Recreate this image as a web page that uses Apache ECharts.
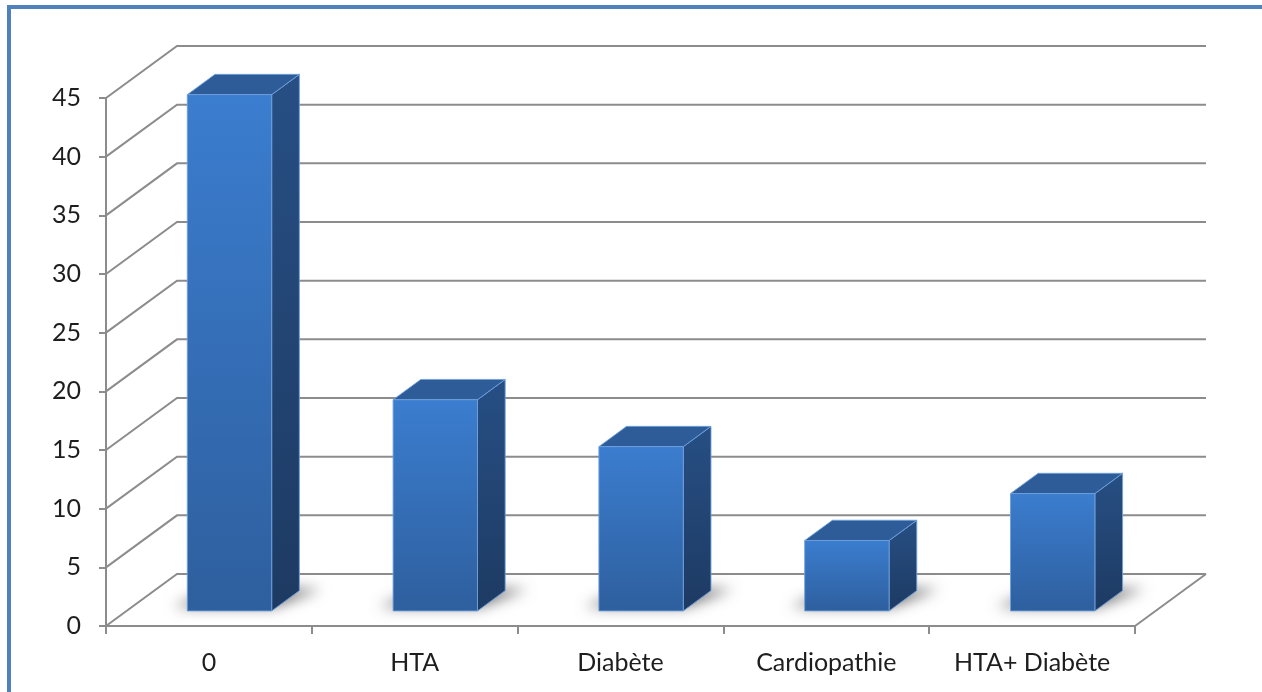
<!DOCTYPE html>
<html>
<head>
<meta charset="utf-8">
<script src="https://cdn.jsdelivr.net/npm/echarts@6/dist/echarts.min.js"></script>
<style>
  html, body { margin: 0; padding: 0; background: #ffffff; }
  #chart { width: 1262px; height: 692px; }
</style>
</head>
<body>
<div id="chart"></div>
<script>
// Categories and values (counts per comorbidity group)
const categories = ['0', 'HTA', 'Diabète', 'Cardiopathie', 'HTA+ Diabète'];
const values = [44, 18, 14, 6, 10];
const yTicks = [0, 5, 10, 15, 20, 25, 30, 35, 40, 45];

// Perspective of the 3D box: offset of the back wall from the front plane
const DX = 71, DY = -52;
const F0 = 0.29, F1 = 0.68;   // front / back depth of each column (fraction of depth)
const BAR_RATIO = 0.41;       // column width relative to category band
const GRID_COLOR = '#8c8c8c';
const SHIFT = 3000;           // the shadow shape is drawn off-canvas; only its blur lands on the floor

const chart = echarts.init(document.getElementById('chart'));

function wallItem(params, api) {
  const cs = params.coordSys;
  const p = api.coord([0, api.value(0)]);
  const x0 = cs.x, y = p[1];
  const children = [{
    type: 'polyline',
    shape: { points: [[x0, y], [x0 + DX, y + DY], [x0 + cs.width + DX, y + DY]] },
    style: { stroke: GRID_COLOR, lineWidth: 2, fill: null }
  }];
  if (api.value(0) === 0) {
    children.push({
      type: 'line',
      shape: { x1: x0 + cs.width, y1: y, x2: x0 + cs.width + DX, y2: y + DY },
      style: { stroke: GRID_COLOR, lineWidth: 2 }
    });
  }
  return { type: 'group', children };
}

function barItem(params, api) {
  const idx = api.value(0);
  const v = api.value(1);
  const base = api.coord([idx, 0]);
  const top = api.coord([idx, v]);
  const band = api.size([1, 0])[0];
  const w = band * BAR_RATIO;
  const fx = base[0] - w / 2 + F0 * DX;
  const fyB = base[1] + F0 * DY;
  const fyT = top[1] + F0 * DY;
  const bx = (F1 - F0) * DX, by = (F1 - F0) * DY;
  const edge = 'rgba(110,160,220,0.9)';

  const ftl = [fx, fyT], ftr = [fx + w, fyT], fbr = [fx + w, fyB], fbl = [fx, fyB];
  const btl = [fx + bx, fyT + by], btr = [fx + w + bx, fyT + by], bbr = [fx + w + bx, fyB + by];

  // soft floor shadow around the footprint
  const shadowPts = [
    [fx - 14, fyB - 4], [fx + w + 2, fyB - 4],
    [fx + w + bx + 22, fyB + by - 2], [fx + bx + 2, fyB + by - 2]
  ].map(pt => [pt[0] - SHIFT, pt[1]]);
  const shadow = {
    type: 'polygon',
    shape: { points: shadowPts },
    style: {
      fill: '#000', shadowBlur: 14, shadowOffsetX: SHIFT,
      shadowColor: 'rgba(0,0,0,0.55)'
    }
  };
  const front = {
    type: 'polygon',
    shape: { points: [ftl, ftr, fbr, fbl] },
    style: {
      fill: new echarts.graphic.LinearGradient(0, 0, 0, 1, [
        { offset: 0, color: '#3b7dcf' },
        { offset: 1, color: '#2e5f9e' }
      ]),
      stroke: edge, lineWidth: 1
    }
  };
  const topFace = {
    type: 'polygon',
    shape: { points: [ftl, ftr, btr, btl] },
    style: { fill: '#2d5c98', stroke: edge, lineWidth: 1 }
  };
  const side = {
    type: 'polygon',
    shape: { points: [ftr, btr, bbr, fbr] },
    style: {
      fill: new echarts.graphic.LinearGradient(0, 0, 0, 1, [
        { offset: 0, color: '#274f84' },
        { offset: 1, color: '#1d3a62' }
      ]),
      stroke: edge, lineWidth: 1
    }
  };
  return { type: 'group', children: [shadow, side, topFace, front] };
}

const labelFont = { fontFamily: 'Lato', fontSize: 25, color: '#1e1e1e' };

chart.setOption({
  animation: false,
  backgroundColor: '#ffffff',
  grid: { left: 106, right: 127, top: 98, bottom: 66 },
  xAxis: {
    type: 'category',
    data: categories,
    axisLine: { lineStyle: { color: GRID_COLOR, width: 2 } },
    axisTick: { show: true, length: 8, interval: 0, lineStyle: { color: GRID_COLOR, width: 2 } },
    axisLabel: Object.assign({ margin: 24, interval: 0 }, labelFont),
    splitLine: { show: false }
  },
  yAxis: {
    type: 'value',
    min: 0, max: 45, interval: 5,
    axisLine: { show: true, lineStyle: { color: GRID_COLOR, width: 2 } },
    axisTick: { show: true, length: 7, lineStyle: { color: GRID_COLOR, width: 2 } },
    axisLabel: Object.assign({ margin: 25 }, labelFont),
    splitLine: { show: false }
  },
  graphic: [
    { type: 'line', shape: { x1: 9, y1: 7, x2: 1262, y2: 7 }, style: { stroke: '#4f81bd', lineWidth: 4 } },
    { type: 'line', shape: { x1: 9, y1: 5, x2: 9, y2: 692 }, style: { stroke: '#4f81bd', lineWidth: 4 } }
  ],
  series: [
    {
      type: 'custom',
      silent: true,
      z: 1,
      renderItem: wallItem,
      data: yTicks.map(t => [t])
    },
    {
      type: 'custom',
      z: 5,
      renderItem: barItem,
      encode: { x: 0, y: 1 },
      data: values.map((v, i) => [i, v])
    }
  ]
});
</script>
</body>
</html>
